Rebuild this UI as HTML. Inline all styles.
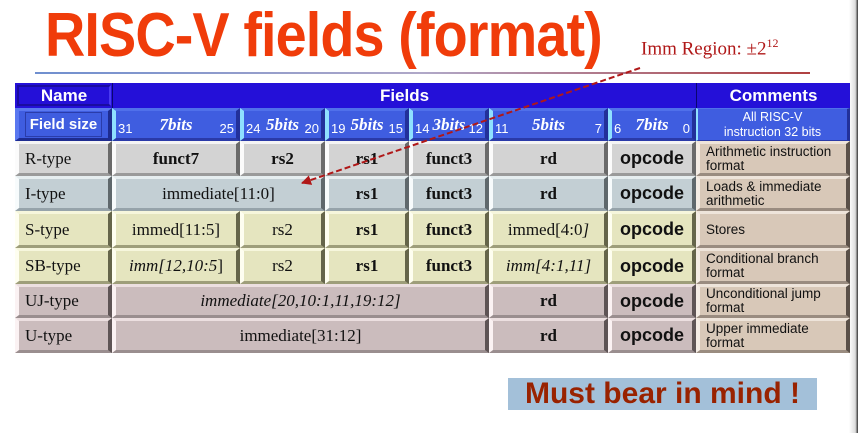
<!DOCTYPE html>
<html><head><meta charset="utf-8"><style>
html,body{margin:0;padding:0;background:#fff;width:858px;height:433px;overflow:hidden;position:relative;font-family:"Liberation Serif",serif}
.a{position:absolute;box-sizing:border-box}
.c{position:absolute;box-sizing:border-box;border-style:solid;border-width:3px 4px 3px 4px;display:flex;align-items:center;justify-content:center;font-size:17px;color:#111;white-space:nowrap}
.g{background:#d3d3d3;border-color:#f4f4f4 #6a6a6a #9a9a9a #fbfbfb}
.b{background:#c3cfd4;border-color:#e6eef0 #5f686c #96a3aa #f7fbfc}
.y{background:#e5e5bf;border-color:#f6f6dc #65654a #9e9e7a #fefef0}
.p{background:#cbbcbd;border-color:#ecdfe0 #5e5455 #9a8e8f #fbf2f3}
.n{justify-content:flex-start;padding-left:6px;font-size:17px;border-width:3px 4px 3px 4px}
.cm{background:#d8c8b8;font-family:"Liberation Sans",sans-serif;font-size:13.5px;line-height:14px;justify-content:flex-start;align-items:center;padding-left:6px;border-color:#eee4da #5a5048 #9a8c80 #f4ece4;white-space:normal}
.bd{font-weight:bold}
.op{font-family:"Liberation Sans",sans-serif;font-weight:bold;font-size:18px}
.it{font-style:italic}
.fs{background:#3f5de0;border-color:#5070ea #22309a #2a3aa8 #8fe0ff;color:#fff;font-style:italic;font-weight:bold;font-size:17px}
.fs .l,.fs .r{position:absolute;bottom:2px;font-family:"Liberation Sans",sans-serif;font-style:normal;font-weight:normal;font-size:13px}
.fs .l{left:2px}.fs .r{right:2px}
</style></head><body>
<div class="a" style="left:45px;top:0px;font-family:'Liberation Sans',sans-serif;font-weight:bold;font-size:62px;color:#f03c0a;transform:scaleX(0.9);transform-origin:left top;white-space:nowrap;letter-spacing:-1px">RISC-V fields (format)</div>
<div class="a" style="left:641px;top:36px;font-size:19px;color:#b01818;white-space:nowrap">Imm Region: ±2<sup style="font-size:12px">12</sup></div>
<div class="a" style="left:35px;top:72px;width:775px;height:2px;background:linear-gradient(90deg,#6f8fcf,#b0a8c8 50%,#b04040)"></div>
<div class="a" style="left:849px;top:0;width:9px;height:433px;background:linear-gradient(90deg,#fff,#ddd 70%,#333)"></div>

<div class="a" style="left:15px;top:83px;width:835px;height:270px;background:#555"></div>
<div class="a" style="left:15px;top:83px;width:835px;height:25px;background:#2410d8"></div>
<div class="a" style="left:17px;top:85px;width:94px;height:21px;border:2px solid #1a0ca0;border-right-color:#4a3af0;display:flex;align-items:center;justify-content:center;color:#fff;font-family:'Liberation Sans',sans-serif;font-weight:bold;font-size:17px">Name</div>
<div class="a" style="left:112px;top:83px;width:1px;height:25px;background:#0a0570"></div>
<div class="a" style="left:113px;top:83px;width:583px;height:25px;display:flex;align-items:center;justify-content:center;color:#fff;font-family:'Liberation Sans',sans-serif;font-weight:bold;font-size:17px">Fields</div>
<div class="a" style="left:696px;top:83px;width:1px;height:25px;background:#0a0570"></div>
<div class="a" style="left:697px;top:83px;width:153px;height:25px;display:flex;align-items:center;justify-content:center;color:#fff;font-family:'Liberation Sans',sans-serif;font-weight:bold;font-size:17px">Comments</div>

<div class="c fs" style="left:15px;top:108px;width:97px;height:33px;font-style:normal;font-family:'Liberation Sans',sans-serif;font-size:15px;border-color:#5a78f0 #1e2c90 #1e2c90 #5a78f0"><span style="border:1px solid #2a3caa;padding:3px 4px">Field size</span></div>
<div class="c fs" style="left:112px;top:108px;width:128px;height:33px">7bits<span class="l">31</span><span class="r">25</span></div>
<div class="c fs" style="left:240px;top:108px;width:85px;height:33px">5bits<span class="l">24</span><span class="r">20</span></div>
<div class="c fs" style="left:325px;top:108px;width:84px;height:33px">5bits<span class="l">19</span><span class="r">15</span></div>
<div class="c fs" style="left:409px;top:108px;width:80px;height:33px">3bits<span class="l">14</span><span class="r">12</span></div>
<div class="c fs" style="left:489px;top:108px;width:119px;height:33px">5bits<span class="l">11</span><span class="r">7</span></div>
<div class="c fs" style="left:608px;top:108px;width:88px;height:33px">7bits<span class="l">6</span><span class="r">0</span></div>
<div class="c" style="left:696px;top:108px;width:154px;height:33px;background:#3f5de0;border-width:1px 3px 1px 2px;border-color:#5070ea #22309a #2a3aa8 #8fe0ff;color:#fff;font-family:'Liberation Sans',sans-serif;font-size:12.5px;line-height:15px;text-align:center;white-space:normal">All RISC-V<br>instruction 32 bits</div>

<div class="c g n" style="left:15px;top:141px;width:97px;height:35px">R-type</div>
<div class="c g bd" style="left:112px;top:141px;width:128px;height:35px">funct7</div>
<div class="c g bd" style="left:240px;top:141px;width:85px;height:35px">rs2</div>
<div class="c g bd" style="left:325px;top:141px;width:84px;height:35px">rs1</div>
<div class="c g bd" style="left:409px;top:141px;width:80px;height:35px">funct3</div>
<div class="c g bd" style="left:489px;top:141px;width:119px;height:35px">rd</div>
<div class="c g op" style="left:608px;top:141px;width:88px;height:35px">opcode</div>
<div class="c cm" style="left:696px;top:141px;width:154px;height:35px">Arithmetic instruction format</div>

<div class="c b n" style="left:15px;top:176px;width:97px;height:35px">I-type</div>
<div class="c b" style="left:112px;top:176px;width:213px;height:35px">immediate[11:0]</div>
<div class="c b bd" style="left:325px;top:176px;width:84px;height:35px">rs1</div>
<div class="c b bd" style="left:409px;top:176px;width:80px;height:35px">funct3</div>
<div class="c b bd" style="left:489px;top:176px;width:119px;height:35px">rd</div>
<div class="c b op" style="left:608px;top:176px;width:88px;height:35px">opcode</div>
<div class="c cm" style="left:696px;top:176px;width:154px;height:35px">Loads &amp; immediate arithmetic</div>

<div class="c y n" style="left:15px;top:211px;width:97px;height:37px">S-type</div>
<div class="c y" style="left:112px;top:211px;width:128px;height:37px">immed[11:5]</div>
<div class="c y" style="left:240px;top:211px;width:85px;height:37px">rs2</div>
<div class="c y bd" style="left:325px;top:211px;width:84px;height:37px">rs1</div>
<div class="c y bd" style="left:409px;top:211px;width:80px;height:37px">funct3</div>
<div class="c y" style="left:489px;top:211px;width:119px;height:37px">immed[4:0<i>]</i></div>
<div class="c y op" style="left:608px;top:211px;width:88px;height:37px">opcode</div>
<div class="c cm" style="left:696px;top:211px;width:154px;height:37px">Stores</div>

<div class="c y n" style="left:15px;top:248px;width:97px;height:36px">SB-type</div>
<div class="c y it" style="left:112px;top:248px;width:128px;height:36px">imm[12,10:5<span style="font-style:normal">]</span></div>
<div class="c y" style="left:240px;top:248px;width:85px;height:36px">rs2</div>
<div class="c y bd" style="left:325px;top:248px;width:84px;height:36px">rs1</div>
<div class="c y bd" style="left:409px;top:248px;width:80px;height:36px">funct3</div>
<div class="c y it" style="left:489px;top:248px;width:119px;height:36px">imm[4:1,11]</div>
<div class="c y op" style="left:608px;top:248px;width:88px;height:36px">opcode</div>
<div class="c cm" style="left:696px;top:248px;width:154px;height:36px">Conditional branch format</div>

<div class="c p n" style="left:15px;top:284px;width:97px;height:34px">UJ-type</div>
<div class="c p it" style="left:112px;top:284px;width:377px;height:34px">immediate[20,10:1,11,19:12]</div>
<div class="c p bd" style="left:489px;top:284px;width:119px;height:34px">rd</div>
<div class="c p op" style="left:608px;top:284px;width:88px;height:34px">opcode</div>
<div class="c cm" style="left:696px;top:284px;width:154px;height:34px">Unconditional jump format</div>

<div class="c p n" style="left:15px;top:318px;width:97px;height:35px">U-type</div>
<div class="c p" style="left:112px;top:318px;width:377px;height:35px">immediate[31:12]</div>
<div class="c p bd" style="left:489px;top:318px;width:119px;height:35px">rd</div>
<div class="c p op" style="left:608px;top:318px;width:88px;height:35px">opcode</div>
<div class="c cm" style="left:696px;top:318px;width:154px;height:35px">Upper immediate format</div>

<svg class="a" style="left:0;top:0" width="858" height="433">
<defs><marker id="ah" markerWidth="5" markerHeight="5" refX="4.5" refY="2.5" orient="auto"><path d="M0,0 L5,2.5 L0,5 z" fill="#b01818"/></marker></defs>
<line x1="640" y1="68" x2="302" y2="183" stroke="#b01818" stroke-width="2" stroke-dasharray="6,3" marker-end="url(#ah)"/>
</svg>

<div class="a" style="left:508px;top:378px;width:309px;height:32px;background:#a3c0d9;color:#992200;font-family:'Liberation Sans',sans-serif;font-weight:bold;font-size:30px;line-height:32px;text-align:center;white-space:nowrap">Must bear in mind !</div>
</body></html>
